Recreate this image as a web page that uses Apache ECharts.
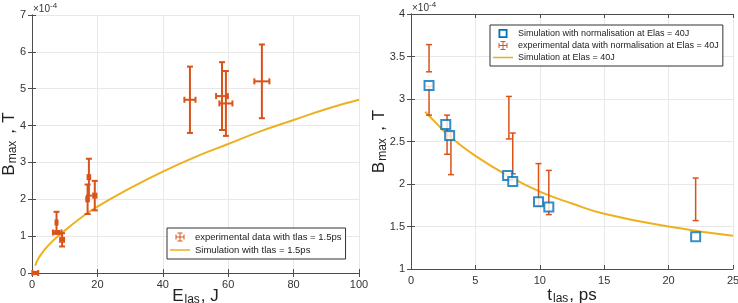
<!DOCTYPE html>
<html>
<head>
<meta charset="utf-8">
<script src="https://cdn.jsdelivr.net/npm/echarts@6/dist/echarts.min.js"></script>
<style>
  html, body { margin: 0; padding: 0; background: #fff; }
  #chart { width: 738px; height: 303px; }
</style>
</head>
<body>
<div id="chart"></div>
<script>
// left panel: B_max vs laser energy
var expE = [1, 7.5, 7.7, 9.2, 17.0, 17.4, 19.2, 48.3, 58.1, 59.3, 70.3]
var expB = [0, 1.37, 1.1, 0.9, 2.0, 2.6, 2.1, 4.7, 4.8, 4.6, 5.2]
var expBErr = [0.03, 0.29, 0.04, 0.18, 0.4, 0.5, 0.4, 0.9, 0.92, 0.88, 1.0]
var expEErr = [0.9, 0.3, 1.3, 0.6, 0.4, 0.4, 0.5, 1.7, 1.8, 2.0, 2.3]
var simE = [1, 2, 5, 10, 15, 20, 30, 40, 50, 60, 70, 80, 90, 100]
var simB = [0.2, 0.4, 0.75, 1.15, 1.5, 1.8, 2.3, 2.75, 3.15, 3.5, 3.85, 4.15, 4.45, 4.7]

// right panel: B_max vs pulse duration
var normT = [1.4, 2.7, 3.0, 7.5, 7.9, 9.9, 10.7, 22.1]
var normB = [3.16, 2.7, 2.57, 2.1, 2.03, 1.79, 1.73, 1.38]
var expT = [1.4, 1.4, 2.8, 3.1, 7.6, 7.9, 9.9, 10.7, 22.1]
var expTB = [3.48, 2.98, 2.58, 2.36, 2.78, 2.36, 1.99, 1.9, 1.82]
var expTBErr = [0.16, 0.17, 0.23, 0.25, 0.25, 0.24, 0.25, 0.26, 0.25]
var curveT = [1.1, 2, 3, 5, 7.5, 10, 12.5, 15, 20, 25]
var curveB = [2.85, 2.71, 2.56, 2.33, 2.1, 1.91, 1.77, 1.65, 1.5, 1.39]

var FONT = 'Liberation Sans, Arial, sans-serif'
var RED = '#D95319'
var YEL = '#EDB120'
var BLUE = '#0072BD'
var AXC = '#4d4d4d'

function zip () {
  var cols = arguments
  return cols[0].map(function (v, i) {
    return Array.prototype.map.call(cols, function (c) { return c[i] })
  })
}

function errorBars (lw, cap) {
  return function (params, api) {
    var x = api.value(0)
    var y = api.value(1)
    var ey = api.value(2)
    var ex = api.value(3)
    var top = api.coord([x, y + ey])
    var bot = api.coord([x, y - ey])
    var lef = api.coord([x - ex, y])
    var rig = api.coord([x + ex, y])
    var st = { stroke: RED, lineWidth: lw, fill: null }
    var kids = [
      { type: 'line', shape: { x1: top[0], y1: top[1], x2: bot[0], y2: bot[1] }, style: st },
      { type: 'line', shape: { x1: top[0] - cap, y1: top[1], x2: top[0] + cap, y2: top[1] }, style: st },
      { type: 'line', shape: { x1: bot[0] - cap, y1: bot[1], x2: bot[0] + cap, y2: bot[1] }, style: st }
    ]
    if (ex > 0) {
      kids.push(
        { type: 'line', shape: { x1: lef[0], y1: lef[1], x2: rig[0], y2: rig[1] }, style: st },
        { type: 'line', shape: { x1: lef[0], y1: lef[1] - cap, x2: lef[0], y2: lef[1] + cap }, style: st },
        { type: 'line', shape: { x1: rig[0], y1: rig[1] - cap, x2: rig[0], y2: rig[1] + cap }, style: st }
      )
    }
    return { type: 'group', children: kids }
  }
}

function valAxis (idx, min, max, step, pos, show, nm, gap) {
  return {
    type: 'value',
    gridIndex: idx,
    min: min,
    max: max,
    interval: step,
    position: pos,
    name: nm,
    nameLocation: 'middle',
    nameGap: gap,
    nameMoveOverlap: false,
    nameTextStyle: {
      fontFamily: FONT,
      color: '#222',
      rich: {
        b: { fontSize: 17, fontFamily: FONT, color: '#222' },
        s: { fontSize: 12, fontFamily: FONT, color: '#222', padding: [8, 1, 0, 1] }
      }
    },
    axisLine: { show: true, lineStyle: { color: AXC, width: 1 } },
    axisTick: { show: true, inside: true, length: 4, lineStyle: { color: AXC } },
    axisLabel: { show: show, fontFamily: FONT, fontSize: 11, color: '#333', margin: 6 },
    splitLine: { show: show, lineStyle: { color: '#e8e8e8' } }
  }
}

var errIcon = 'path://M9,2h2v16h-2z M5,1h10v2h-10z M5,17h10v2h-10z M2,9h16v2h-16z M1,5h2v10h-2z M17,5h2v10h-2z'
var lineIcon = 'path://M0,0h26v2h-26z'
var boxIcon = 'path://M0,0h10v10h-10z M2,2v6h6v-6z'

function legendBox (left, top, size, items) {
  return {
    left: left,
    top: top,
    orient: 'vertical',
    itemGap: 3,
    itemWidth: 20,
    itemHeight: 9,
    padding: [4, 4, 4, 3],
    borderColor: '#333',
    borderWidth: 1,
    backgroundColor: '#fff',
    textStyle: { fontFamily: FONT, fontSize: size, color: '#222' },
    data: items
  }
}

var chart = echarts.init(document.getElementById('chart'))
var option = {
  animation: false,
  textStyle: { fontFamily: FONT },
  grid: [
    { left: 32, right: 379, top: 15, bottom: 30, outerBoundsMode: 'none' },
    { left: 411, right: 5, top: 14, bottom: 34, outerBoundsMode: 'none' }
  ],
  xAxis: [
    valAxis(0, 0, 100, 20, 'bottom', true, '{b|E}{s|las}{b|, J}', 13),
    valAxis(0, 0, 100, 20, 'top', false, '', 0),
    valAxis(1, 0, 25, 5, 'bottom', true, '{b|t}{s|las}{b|, ps}', 16),
    valAxis(1, 0, 25, 5, 'top', false, '', 0)
  ],
  yAxis: [
    valAxis(0, 0, 7, 1, 'left', true, '{b|B}{s|max}{b|，T}', 13),
    valAxis(0, 0, 7, 1, 'right', false, '', 0),
    valAxis(1, 1, 4, 0.5, 'left', true, '{b|B}{s|max}{b|，T}', 22),
    valAxis(1, 1, 4, 0.5, 'right', false, '', 0)
  ],
  legend: [
    legendBox(167, 228, 9.5, [
      { name: 'experimental data with tlas = 1.5ps', icon: errIcon, itemStyle: { color: RED, opacity: 1 } },
      { name: 'Simulation with tlas = 1.5ps', icon: lineIcon, itemStyle: { color: YEL, opacity: 1 } }
    ]),
    legendBox(490, 25, 9, [
      { name: 'Simulation with normalisation at Elas = 40J', icon: boxIcon, itemStyle: { color: BLUE, borderWidth: 0, opacity: 1 } },
      { name: 'experimental data with normalisation at Elas = 40J', icon: errIcon, itemStyle: { color: RED, opacity: 1 } },
      { name: 'Simulation at Elas = 40J', icon: lineIcon, itemStyle: { color: YEL, opacity: 1 } }
    ])
  ],
  graphic: [
    {
      type: 'text', left: 33, top: 2,
      style: { text: '×10{sup|-4}', fontFamily: FONT, fontSize: 10, fill: '#333', rich: { sup: { fontSize: 8, fill: '#333', padding: [0, 0, 6, 0] } } }
    },
    {
      type: 'text', left: 412, top: 1,
      style: { text: '×10{sup|-4}', fontFamily: FONT, fontSize: 10, fill: '#333', rich: { sup: { fontSize: 8, fill: '#333', padding: [0, 0, 6, 0] } } }
    }
  ],
  series: [
    {
      name: 'Simulation with tlas = 1.5ps',
      type: 'line',
      xAxisIndex: 0,
      yAxisIndex: 0,
      smooth: true,
      symbol: 'none',
      lineStyle: { color: YEL, width: 2 },
      itemStyle: { color: YEL },
      data: zip(simE, simB),
      z: 2
    },
    {
      name: 'experimental data with tlas = 1.5ps',
      type: 'custom',
      xAxisIndex: 0,
      yAxisIndex: 0,
      itemStyle: { color: RED },
      renderItem: errorBars(2, 3),
      data: zip(expE, expB, expBErr, expEErr),
      z: 3
    },
    {
      name: 'Simulation at Elas = 40J',
      type: 'line',
      xAxisIndex: 2,
      yAxisIndex: 2,
      smooth: true,
      symbol: 'none',
      lineStyle: { color: YEL, width: 2 },
      itemStyle: { color: YEL },
      data: zip(curveT, curveB),
      z: 2
    },
    {
      name: 'experimental data with normalisation at Elas = 40J',
      type: 'custom',
      xAxisIndex: 2,
      yAxisIndex: 2,
      itemStyle: { color: RED },
      renderItem: errorBars(1.5, 3),
      data: zip(expT, expTB, expTBErr, expT.map(function () { return 0 })),
      z: 3
    },
    {
      name: 'Simulation with normalisation at Elas = 40J',
      type: 'scatter',
      xAxisIndex: 2,
      yAxisIndex: 2,
      symbol: 'rect',
      symbolSize: 9,
      itemStyle: { color: '#fff', borderColor: BLUE, borderWidth: 2 },
      data: zip(normT, normB),
      z: 4
    }
  ]
}
chart.setOption(option)
</script>
</body>
</html>
